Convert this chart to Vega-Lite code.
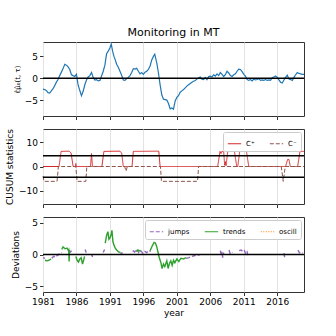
{
  "$schema": "https://vega.github.io/schema/vega-lite/v6.json",
  "padding": {"left": 5, "top": 26, "right": 5, "bottom": 5},
  "spacing": 7,
  "config": {
    "font": "DejaVu Sans",
    "view": {"stroke": "#333", "strokeWidth": 1},
    "axis": {"labelFontSize": 9, "titleFontSize": 9, "titleFontWeight": "normal", "labelColor": "#000", "titleColor": "#000", "tickColor": "#333", "tickSize": 3.5, "labelPadding": 2, "domain": false, "labelOverlap": false, "labelBound": false, "labelFlush": false},
    "legend": {"labelFontSize": 7, "symbolStrokeWidth": 1.2, "strokeColor": "#ccc", "fillColor": "#ffffff", "padding": 4, "cornerRadius": 2, "orient": "top-right", "direction": "horizontal", "offset": 3, "symbolType": "stroke", "symbolSize": 180, "columnPadding": 12, "labelLimit": 60}
  },
  "datasets": {
    "p1": [
      {"year":1981.0,"v":-2.5},{"year":1981.25,"v":-2.6},{"year":1981.5,"v":-2.8},{"year":1981.75,"v":-3.3},{"year":1982.0,"v":-3.4},{"year":1982.25,"v":-2.9},{"year":1982.5,"v":-2.4},{"year":1982.75,"v":-1.7},{"year":1983.0,"v":-0.9},{"year":1983.25,"v":-0.3},{"year":1983.5,"v":0.6},{"year":1983.75,"v":1.4},{"year":1984.0,"v":2.2},{"year":1984.25,"v":3.2},{"year":1984.5,"v":3.0},{"year":1984.75,"v":2.6},{"year":1985.0,"v":2.0},{"year":1985.25,"v":0.8},{"year":1985.5,"v":0.6},{"year":1985.75,"v":0.4},{"year":1986.0,"v":0.9},{"year":1986.25,"v":-1.6},{"year":1986.5,"v":-2.8},{"year":1986.75,"v":-4.0},{"year":1987.0,"v":-3.0},{"year":1987.25,"v":-1.5},{"year":1987.5,"v":-0.4},{"year":1987.75,"v":0.3},{"year":1988.0,"v":0.6},{"year":1988.25,"v":1.3},{"year":1988.5,"v":0.2},{"year":1988.75,"v":-0.4},{"year":1989.0,"v":-0.3},{"year":1989.25,"v":-0.6},{"year":1989.5,"v":-0.5},{"year":1989.75,"v":0.5},{"year":1990.0,"v":1.6},{"year":1990.25,"v":3.0},{"year":1990.5,"v":5.6},{"year":1990.75,"v":6.2},{"year":1991.0,"v":7.0},{"year":1991.2,"v":7.8},{"year":1991.4,"v":6.2},{"year":1991.6,"v":5.0},{"year":1991.8,"v":4.2},{"year":1992.0,"v":3.2},{"year":1992.25,"v":2.5},{"year":1992.5,"v":1.6},{"year":1992.75,"v":0.7},{"year":1993.0,"v":-0.4},{"year":1993.25,"v":-0.5},{"year":1993.5,"v":-0.1},{"year":1993.75,"v":0.2},{"year":1994.0,"v":0.6},{"year":1994.25,"v":1.3},{"year":1994.5,"v":2.2},{"year":1994.75,"v":2.1},{"year":1995.0,"v":2.3},{"year":1995.25,"v":1.6},{"year":1995.5,"v":1.0},{"year":1995.75,"v":1.3},{"year":1996.0,"v":0.9},{"year":1996.25,"v":1.4},{"year":1996.5,"v":1.6},{"year":1996.75,"v":2.0},{"year":1997.0,"v":2.8},{"year":1997.25,"v":4.2},{"year":1997.5,"v":5.0},{"year":1997.7,"v":5.5},{"year":1998.0,"v":3.5},{"year":1998.25,"v":1.2},{"year":1998.5,"v":-1.5},{"year":1998.75,"v":-3.8},{"year":1999.0,"v":-4.8},{"year":1999.25,"v":-4.9},{"year":1999.5,"v":-5.0},{"year":1999.75,"v":-5.8},{"year":2000.0,"v":-7.0},{"year":2000.25,"v":-6.8},{"year":2000.5,"v":-7.1},{"year":2000.75,"v":-5.2},{"year":2001.0,"v":-4.4},{"year":2001.25,"v":-4.0},{"year":2001.5,"v":-3.2},{"year":2001.75,"v":-2.9},{"year":2002.0,"v":-2.6},{"year":2002.25,"v":-2.2},{"year":2002.5,"v":-1.8},{"year":2002.75,"v":-1.5},{"year":2003.0,"v":-1.2},{"year":2003.25,"v":-0.9},{"year":2003.5,"v":-0.7},{"year":2003.75,"v":-0.5},{"year":2004.0,"v":-0.2},{"year":2004.25,"v":0.1},{"year":2004.5,"v":0.3},{"year":2004.75,"v":-0.2},{"year":2005.0,"v":-0.3},{"year":2005.25,"v":0.2},{"year":2005.5,"v":-0.3},{"year":2005.75,"v":0.4},{"year":2006.0,"v":0.5},{"year":2006.25,"v":0.3},{"year":2006.5,"v":0.8},{"year":2006.75,"v":0.5},{"year":2007.0,"v":1.0},{"year":2007.25,"v":0.6},{"year":2007.5,"v":1.3},{"year":2007.75,"v":0.9},{"year":2008.0,"v":0.4},{"year":2008.25,"v":0.8},{"year":2008.5,"v":1.6},{"year":2008.75,"v":1.2},{"year":2009.0,"v":0.6},{"year":2009.25,"v":0.4},{"year":2009.5,"v":0.8},{"year":2009.75,"v":1.0},{"year":2010.0,"v":1.6},{"year":2010.25,"v":2.1},{"year":2010.5,"v":2.0},{"year":2010.75,"v":1.5},{"year":2011.0,"v":0.9},{"year":2011.25,"v":0.5},{"year":2011.5,"v":-0.3},{"year":2011.75,"v":-0.5},{"year":2012.0,"v":-0.3},{"year":2012.25,"v":-0.6},{"year":2012.5,"v":-0.2},{"year":2012.75,"v":-0.4},{"year":2013.0,"v":-0.3},{"year":2013.25,"v":-0.1},{"year":2013.5,"v":-0.5},{"year":2013.75,"v":-0.4},{"year":2014.0,"v":-0.5},{"year":2014.25,"v":-0.3},{"year":2014.5,"v":-0.5},{"year":2014.75,"v":-0.4},{"year":2015.0,"v":-0.5},{"year":2015.25,"v":0.1},{"year":2015.5,"v":0.3},{"year":2015.75,"v":0.5},{"year":2016.0,"v":0.2},{"year":2016.25,"v":-0.4},{"year":2016.5,"v":-0.9},{"year":2016.75,"v":-1.1},{"year":2017.0,"v":-0.4},{"year":2017.25,"v":0.2},{"year":2017.5,"v":0.7},{"year":2017.75,"v":-0.2},{"year":2018.0,"v":-0.3},{"year":2018.25,"v":-0.5},{"year":2018.5,"v":0.2},{"year":2018.75,"v":0.8},{"year":2019.0,"v":1.3},{"year":2019.25,"v":1.1},{"year":2019.5,"v":1.0},{"year":2019.75,"v":0.9},{"year":2020.0,"v":0.9}
    ],
    "p2": [
      {"year":1981.0,"v":0,"s":"C⁺"},{"year":1983.4,"v":0,"s":"C⁺"},{"year":1983.7,"v":6.2,"s":"C⁺"},{"year":1984.9,"v":6.3,"s":"C⁺"},{"year":1985.2,"v":5.5,"s":"C⁺"},{"year":1985.5,"v":0,"s":"C⁺"},{"year":1985.85,"v":0,"s":"C⁺"},{"year":1985.9,"v":1.2,"s":"C⁺"},{"year":1985.95,"v":0,"s":"C⁺"},{"year":1988.1,"v":0,"s":"C⁺"},{"year":1988.25,"v":5.3,"s":"C⁺"},{"year":1988.4,"v":0,"s":"C⁺"},{"year":1989.8,"v":0,"s":"C⁺"},{"year":1990.1,"v":6.2,"s":"C⁺"},{"year":1992.5,"v":6.3,"s":"C⁺"},{"year":1992.75,"v":5.5,"s":"C⁺"},{"year":1993.0,"v":0,"s":"C⁺"},{"year":1994.3,"v":0,"s":"C⁺"},{"year":1994.5,"v":6.2,"s":"C⁺"},{"year":1998.3,"v":6.3,"s":"C⁺"},{"year":1998.5,"v":0,"s":"C⁺"},{"year":2007.1,"v":0,"s":"C⁺"},{"year":2007.45,"v":6.2,"s":"C⁺"},{"year":2007.6,"v":5.3,"s":"C⁺"},{"year":2007.75,"v":6.3,"s":"C⁺"},{"year":2008.0,"v":6.0,"s":"C⁺"},{"year":2008.15,"v":0.5,"s":"C⁺"},{"year":2008.25,"v":2.0,"s":"C⁺"},{"year":2008.35,"v":0.3,"s":"C⁺"},{"year":2008.6,"v":6.0,"s":"C⁺"},{"year":2008.8,"v":6.3,"s":"C⁺"},{"year":2009.6,"v":6.3,"s":"C⁺"},{"year":2009.95,"v":0,"s":"C⁺"},{"year":2010.1,"v":0,"s":"C⁺"},{"year":2010.4,"v":6.2,"s":"C⁺"},{"year":2011.4,"v":6.2,"s":"C⁺"},{"year":2011.75,"v":0,"s":"C⁺"},{"year":2017.25,"v":0,"s":"C⁺"},{"year":2017.55,"v":2.9,"s":"C⁺"},{"year":2017.75,"v":2.9,"s":"C⁺"},{"year":2017.95,"v":0,"s":"C⁺"},{"year":2019.05,"v":0,"s":"C⁺"},{"year":2019.4,"v":6.2,"s":"C⁺"},{"year":2020.0,"v":6.2,"s":"C⁺"},
      {"year":1981.0,"v":-4.0,"s":"C⁻"},{"year":1981.15,"v":-6.1,"s":"C⁻"},{"year":1983.1,"v":-6.1,"s":"C⁻"},{"year":1983.3,"v":0,"s":"C⁻"},{"year":1985.9,"v":0,"s":"C⁻"},{"year":1986.1,"v":-6.1,"s":"C⁻"},{"year":1987.4,"v":-6.1,"s":"C⁻"},{"year":1987.55,"v":0,"s":"C⁻"},{"year":1993.2,"v":0,"s":"C⁻"},{"year":1993.4,"v":-1.9,"s":"C⁻"},{"year":1993.6,"v":0,"s":"C⁻"},{"year":1998.55,"v":0,"s":"C⁻"},{"year":1998.7,"v":-6.1,"s":"C⁻"},{"year":2004.1,"v":-6.1,"s":"C⁻"},{"year":2004.25,"v":0,"s":"C⁻"},{"year":2016.6,"v":0,"s":"C⁻"},{"year":2016.9,"v":-6.1,"s":"C⁻"},{"year":2017.2,"v":0,"s":"C⁻"},{"year":2020.0,"v":0,"s":"C⁻"}
    ],
    "p3": [
      {"year":1981.0,"v":-0.5,"s":"jumps","g":"j1"},{"year":1981.3,"v":-0.6,"s":"jumps","g":"j1"},
      {"year":1982.3,"v":-0.6,"s":"jumps","g":"j2"},{"year":1982.6,"v":-0.3,"s":"jumps","g":"j2"},{"year":1982.9,"v":-0.4,"s":"jumps","g":"j2"},{"year":1983.2,"v":-0.1,"s":"jumps","g":"j2"},{"year":1983.5,"v":0.1,"s":"jumps","g":"j2"},{"year":1983.8,"v":0.3,"s":"jumps","g":"j2"},
      {"year":1984.9,"v":0.7,"s":"jumps","g":"j3"},{"year":1985.1,"v":0.4,"s":"jumps","g":"j3"},{"year":1985.3,"v":0.6,"s":"jumps","g":"j3"},
      {"year":1987.3,"v":0.8,"s":"jumps","g":"j4"},{"year":1987.45,"v":0.3,"s":"jumps","g":"j4"},
      {"year":1988.3,"v":0.0,"s":"jumps","g":"j5"},{"year":1988.4,"v":-0.4,"s":"jumps","g":"j5"},
      {"year":1990.0,"v":0.3,"s":"jumps","g":"j6"},{"year":1990.2,"v":0.8,"s":"jumps","g":"j6"},
      {"year":1992.6,"v":0.1,"s":"jumps","g":"j7"},{"year":1992.9,"v":0.3,"s":"jumps","g":"j7"},
      {"year":1994.4,"v":0.6,"s":"jumps","g":"j8"},{"year":1994.7,"v":0.4,"s":"jumps","g":"j8"},{"year":1995.0,"v":0.8,"s":"jumps","g":"j8"},{"year":1995.3,"v":0.3,"s":"jumps","g":"j8"},{"year":1995.6,"v":0.6,"s":"jumps","g":"j8"},{"year":1995.9,"v":0.2,"s":"jumps","g":"j8"},{"year":1996.2,"v":0.5,"s":"jumps","g":"j8"},{"year":1996.5,"v":0.3,"s":"jumps","g":"j8"},{"year":1996.8,"v":0.6,"s":"jumps","g":"j8"},{"year":1997.1,"v":0.5,"s":"jumps","g":"j8"},
      {"year":2002.4,"v":-0.6,"s":"jumps","g":"j9"},{"year":2002.8,"v":-0.5,"s":"jumps","g":"j9"},{"year":2003.2,"v":-0.3,"s":"jumps","g":"j9"},{"year":2003.6,"v":-0.2,"s":"jumps","g":"j9"},{"year":2004.0,"v":-0.1,"s":"jumps","g":"j9"},{"year":2004.4,"v":-0.1,"s":"jumps","g":"j9"},
      {"year":2007.5,"v":0.6,"s":"jumps","g":"j10"},{"year":2007.65,"v":-0.2,"s":"jumps","g":"j10"},{"year":2007.75,"v":0.4,"s":"jumps","g":"j10"},{"year":2007.85,"v":-0.5,"s":"jumps","g":"j10"},{"year":2008.0,"v":0.3,"s":"jumps","g":"j10"},
      {"year":2008.8,"v":0.7,"s":"jumps","g":"j11"},{"year":2008.95,"v":0.2,"s":"jumps","g":"j11"},{"year":2009.1,"v":0.4,"s":"jumps","g":"j11"},{"year":2009.3,"v":0.3,"s":"jumps","g":"j11"},
      {"year":2010.3,"v":0.6,"s":"jumps","g":"j12"},{"year":2010.6,"v":0.7,"s":"jumps","g":"j12"},{"year":2010.9,"v":0.4,"s":"jumps","g":"j12"},{"year":2011.1,"v":0.6,"s":"jumps","g":"j12"},{"year":2011.3,"v":0.1,"s":"jumps","g":"j12"},{"year":2011.5,"v":0.4,"s":"jumps","g":"j12"},{"year":2011.6,"v":-0.1,"s":"jumps","g":"j12"},
      {"year":2017.0,"v":0.2,"s":"jumps","g":"j13"},{"year":2017.1,"v":-0.4,"s":"jumps","g":"j13"},{"year":2017.2,"v":0.0,"s":"jumps","g":"j13"},
      {"year":2019.1,"v":0.7,"s":"jumps","g":"j14"},{"year":2019.3,"v":0.3,"s":"jumps","g":"j14"},{"year":2019.6,"v":0.2,"s":"jumps","g":"j14"},{"year":2019.8,"v":0.3,"s":"jumps","g":"j14"},
      {"year":1981.3,"v":-0.9,"s":"trends","g":"t1"},{"year":1981.6,"v":-1.0,"s":"trends","g":"t1"},{"year":1981.9,"v":-0.9,"s":"trends","g":"t1"},{"year":1982.2,"v":-0.7,"s":"trends","g":"t1"},
      {"year":1983.8,"v":0.8,"s":"trends","g":"t2"},{"year":1984.0,"v":1.2,"s":"trends","g":"t2"},{"year":1984.3,"v":0.9,"s":"trends","g":"t2"},{"year":1984.6,"v":1.0,"s":"trends","g":"t2"},{"year":1984.8,"v":0.6,"s":"trends","g":"t2"},{"year":1984.85,"v":0.7,"s":"trends","g":"t2"},{"year":1984.9,"v":-1.1,"s":"trends","g":"t2"},{"year":1984.95,"v":0.5,"s":"trends","g":"t2"},
      {"year":1985.9,"v":-0.3,"s":"trends","g":"t3"},{"year":1986.1,"v":-0.9,"s":"trends","g":"t3"},{"year":1986.3,"v":-1.2,"s":"trends","g":"t3"},{"year":1986.5,"v":-0.7,"s":"trends","g":"t3"},{"year":1986.7,"v":-0.5,"s":"trends","g":"t3"},{"year":1986.9,"v":-1.5,"s":"trends","g":"t3"},{"year":1987.1,"v":-0.8,"s":"trends","g":"t3"},{"year":1987.2,"v":-0.3,"s":"trends","g":"t3"},
      {"year":1990.3,"v":1.8,"s":"trends","g":"t4"},{"year":1990.5,"v":3.0,"s":"trends","g":"t4"},{"year":1990.7,"v":3.6,"s":"trends","g":"t4"},{"year":1990.85,"v":2.4,"s":"trends","g":"t4"},{"year":1991.0,"v":2.6,"s":"trends","g":"t4"},{"year":1991.2,"v":3.2,"s":"trends","g":"t4"},{"year":1991.3,"v":3.8,"s":"trends","g":"t4"},{"year":1991.45,"v":2.0,"s":"trends","g":"t4"},{"year":1991.6,"v":1.5,"s":"trends","g":"t4"},{"year":1991.8,"v":1.0,"s":"trends","g":"t4"},{"year":1992.0,"v":0.7,"s":"trends","g":"t4"},{"year":1992.3,"v":0.4,"s":"trends","g":"t4"},{"year":1992.6,"v":0.3,"s":"trends","g":"t4"},
      {"year":1994.9,"v":0.5,"s":"trends","g":"t5"},{"year":1995.2,"v":0.7,"s":"trends","g":"t5"},{"year":1995.6,"v":0.5,"s":"trends","g":"t5"},
      {"year":1997.0,"v":0.6,"s":"trends","g":"t6"},{"year":1997.3,"v":1.3,"s":"trends","g":"t6"},{"year":1997.6,"v":1.9,"s":"trends","g":"t6"},{"year":1997.8,"v":1.8,"s":"trends","g":"t6"},{"year":1998.0,"v":1.2,"s":"trends","g":"t6"},{"year":1998.2,"v":0.3,"s":"trends","g":"t6"},{"year":1998.4,"v":-0.6,"s":"trends","g":"t6"},{"year":1998.6,"v":-1.2,"s":"trends","g":"t6"},{"year":1998.8,"v":-2.2,"s":"trends","g":"t6"},{"year":1999.0,"v":-1.5,"s":"trends","g":"t6"},{"year":1999.2,"v":-1.9,"s":"trends","g":"t6"},{"year":1999.5,"v":-1.0,"s":"trends","g":"t6"},{"year":1999.7,"v":-2.2,"s":"trends","g":"t6"},{"year":1999.9,"v":-1.4,"s":"trends","g":"t6"},{"year":2000.1,"v":-1.0,"s":"trends","g":"t6"},{"year":2000.3,"v":-1.7,"s":"trends","g":"t6"},{"year":2000.5,"v":-0.9,"s":"trends","g":"t6"},{"year":2000.7,"v":-1.3,"s":"trends","g":"t6"},{"year":2001.0,"v":-0.7,"s":"trends","g":"t6"},{"year":2001.3,"v":-1.1,"s":"trends","g":"t6"},{"year":2001.6,"v":-0.6,"s":"trends","g":"t6"},{"year":2002.0,"v":-0.7,"s":"trends","g":"t6"},{"year":2002.4,"v":-0.5,"s":"trends","g":"t6"}
    ]
  },
  "vconcat": [
    {
      "title": {"text": "Monitoring in MT", "frame": "group", "anchor": "middle", "fontSize": 11, "fontWeight": "normal", "offset": 4},
      "width": 261, "height": 74,
      "layer": [
        {"data": {"name": "p1"}, "mark": {"type": "line", "color": "#1f77b4", "strokeWidth": 1.2},
         "encoding": {
           "x": {"field": "year", "type": "quantitative", "scale": {"domain": [1981, 2020], "nice": false, "zero": false}, "axis": {"values": [1981,1986,1991,1996,2001,2006,2011,2016], "labels": false, "title": null, "grid": true, "gridColor": "#e3e3e3"}},
           "y": {"field": "v", "type": "quantitative", "scale": {"domain": [-8.65, 8.3], "nice": false}, "axis": {"tickCount": 3, "grid": false, "title": "ε̂μ̂₀(t, τ)", "titleFontSize": 7}}
         }},
        {"data": {"values": [{"h": 0}]}, "mark": {"type": "rule", "color": "#000", "strokeWidth": 1.6}, "encoding": {"y": {"field": "h", "type": "quantitative"}}}
      ]
    },
    {
      "width": 261, "height": 75,
      "layer": [
        {"data": {"name": "p2"}, "mark": {"type": "line", "strokeWidth": 1},
         "encoding": {
           "x": {"field": "year", "type": "quantitative", "scale": {"domain": [1981, 2020], "nice": false, "zero": false}, "axis": {"values": [1981,1986,1991,1996,2001,2006,2011,2016], "labels": false, "title": null, "grid": true, "gridColor": "#e3e3e3"}},
           "y": {"field": "v", "type": "quantitative", "scale": {"domain": [-15.4, 15.4], "nice": false}, "axis": {"tickCount": 3, "grid": false, "title": "CUSUM statistics"}},
           "color": {"field": "s", "type": "nominal", "scale": {"domain": ["C⁺", "C⁻"], "range": ["#d62728", "#8c564b"]}, "legend": {"title": null}},
           "strokeDash": {"field": "s", "type": "nominal", "scale": {"domain": ["C⁺", "C⁻"], "range": [[1, 0], [4, 2]]}, "legend": {"title": null}}
         }},
        {"data": {"values": [{"h": 4.4}, {"h": -4.4}]}, "mark": {"type": "rule", "color": "#000", "strokeWidth": 1.6}, "encoding": {"y": {"field": "h", "type": "quantitative"}}}
      ]
    },
    {
      "width": 261, "height": 75,
      "resolve": {"scale": {"color": "independent", "strokeDash": "independent"}},
      "layer": [
        {"data": {"name": "p3"}, "mark": {"type": "line", "strokeWidth": 1.4},
         "encoding": {
           "x": {"field": "year", "type": "quantitative", "scale": {"domain": [1981, 2020], "nice": false, "zero": false}, "axis": {"values": [1981,1986,1991,1996,2001,2006,2011,2016], "format": "d", "title": "year", "grid": true, "gridColor": "#e3e3e3", "titlePadding": 2}},
           "y": {"field": "v", "type": "quantitative", "scale": {"domain": [-5.9, 5.9], "nice": false}, "axis": {"tickCount": 3, "grid": false, "title": "Deviations"}},
           "detail": {"field": "g"},
           "color": {"field": "s", "type": "nominal", "scale": {"domain": ["jumps", "trends", "oscill"], "range": ["#9467bd", "#2ca02c", "#ff7f0e"]}, "legend": {"title": null}},
           "strokeDash": {"field": "s", "type": "nominal", "scale": {"domain": ["jumps", "trends", "oscill"], "range": [[4, 2], [1, 0], [1, 1.5]]}, "legend": {"title": null}}
         }},
        {"data": {"values": [{"h": 0}]}, "mark": {"type": "rule", "color": "#000", "strokeWidth": 1.6}, "encoding": {"y": {"field": "h", "type": "quantitative"}}}
      ]
    }
  ],
  "resolve": {"scale": {"color": "independent", "strokeDash": "independent"}, "legend": {"color": "independent", "strokeDash": "independent"}}
}
